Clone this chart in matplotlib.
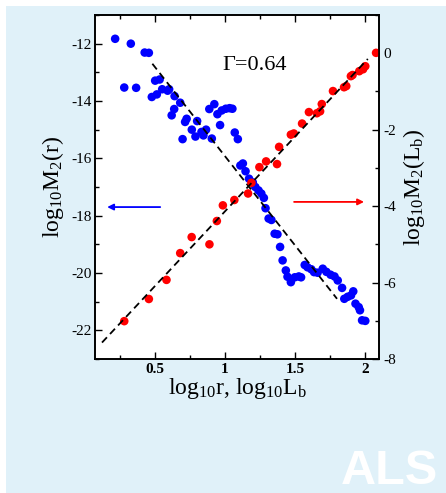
import matplotlib
matplotlib.use("Agg")
import matplotlib.pyplot as plt
from matplotlib.patches import Rectangle
from matplotlib.ticker import MultipleLocator, FixedLocator, FixedFormatter

plt.rcParams['font.family'] = ['Liberation Serif', 'DejaVu Serif']
plt.rcParams['mathtext.fontset'] = 'custom'
plt.rcParams['mathtext.rm'] = 'Liberation Serif'
plt.rcParams['mathtext.it'] = 'Liberation Serif:italic'
plt.rcParams['mathtext.bf'] = 'Liberation Serif:bold'
plt.rcParams['axes.unicode_minus'] = False

# ---- data (log10 r, log10 M2(r)) : blue, left axis
blue_x = [0.214, 0.326, 0.425, 0.455, 0.279, 0.364, 0.500, 0.532, 0.476, 0.512,
          0.550, 0.589, 0.600, 0.639, 0.679, 0.636, 0.618, 0.725, 0.714, 0.800,
          0.762, 0.696, 0.788, 0.831, 0.845, 0.864, 0.905, 0.887, 0.923, 0.945,
          0.976, 1.005, 1.032, 1.052, 0.964, 1.069, 1.091, 1.109, 1.127, 1.146,
          1.171, 1.198, 1.216, 1.239, 1.259, 1.277, 1.289, 1.311, 1.331, 1.354,
          1.374, 1.393, 1.411, 1.434, 1.446, 1.470, 1.498, 1.527, 1.543, 1.569,
          1.589, 1.616, 1.636, 1.661, 1.698, 1.724, 1.754, 1.782, 1.805, 1.836,
          1.852, 1.876, 1.900, 1.916, 1.932, 1.955, 1.964, 1.979, 2.002]
blue_y = [-11.83, -12.00, -12.31, -12.32, -13.53, -13.54, -13.29, -13.25, -13.86, -13.77,
          -13.59, -13.64, -13.59, -13.83, -14.06, -14.28, -14.50, -14.62, -14.73, -14.70,
          -15.00, -15.33, -15.24, -15.08, -15.20, -15.00, -15.31, -14.28, -14.11, -14.46,
          -14.33, -14.27, -14.25, -14.27, -14.84, -15.10, -15.33, -16.25, -16.18, -16.45,
          -16.71, -16.84, -17.00, -17.12, -17.23, -17.38, -17.74, -18.10, -18.15, -18.63,
          -18.65, -19.09, -19.56, -19.91, -20.13, -20.32, -20.15, -20.12, -20.15, -19.72,
          -19.80, -19.87, -19.97, -19.99, -19.85, -19.96, -20.06, -20.12, -20.26, -20.52,
          -20.90, -20.83, -20.78, -20.64, -21.07, -21.19, -21.30, -21.65, -21.67]

# ---- data (log10 Lb, log10 M2(Lb)) : red, right axis
red_x = [0.279, 0.455, 0.581, 0.679, 0.761, 0.888, 0.941, 0.984, 1.066, 1.164,
         1.188, 1.245, 1.293, 1.371, 1.386, 1.470, 1.491, 1.550, 1.599, 1.656,
         1.679, 1.691, 1.771, 1.850, 1.866, 1.899, 1.911, 1.959, 1.986, 2.002, 2.079]
red_y = [-7.01, -6.43, -5.93, -5.23, -4.81, -5.00, -4.39, -3.98, -3.84, -3.67,
         -3.39, -2.98, -2.83, -2.90, -2.45, -2.13, -2.10, -1.84, -1.54, -1.57,
         -1.52, -1.33, -0.99, -0.89, -0.86, -0.60, -0.57, -0.47, -0.42, -0.34, 0.01]

# fit lines
blue_fit_x = [0.48, 1.80]
blue_fit_y = [-12.70, -20.90]
red_fit_x = [0.12, 2.02]
red_fit_y = [-7.57, -0.15]

x_ticks = [0.5, 1.0, 1.5, 2.0]
x_ticklabels = ['0.5', '1', '1.5', '2']
left_ticks = [-22, -20, -18, -16, -14, -12]
right_ticks = [-8, -6, -4, -2, 0]

fig = plt.figure(figsize=(4.46, 4.93), dpi=100, facecolor='white')
fig.patches.append(Rectangle((6 / 446, 0), 1, (493 - 6) / 493, transform=fig.transFigure,
                             facecolor='#e0f1f9', edgecolor='none', zorder=-10))

ax = fig.add_axes([95 / 446, (493 - 359) / 493, (379 - 95) / 446, (359 - 15) / 493])
ax.set_facecolor('white')
ax2 = ax.twinx()

ax.scatter(blue_x, blue_y, s=38, color='#0000ff', edgecolors='none', zorder=2)
ax.plot(blue_fit_x, blue_fit_y, color='black', lw=1.3, dashes=(4, 2.5), zorder=3)
ax2.scatter(red_x, red_y, s=38, color='#ff0000', edgecolors='none', zorder=2)
ax2.plot(red_fit_x, red_fit_y, color='black', lw=1.3, dashes=(4, 2.5), zorder=3)

ax.set_xlim(0.07, 2.1)
ax.set_ylim(-23, -11)
ax2.set_ylim(-8, 1)

ax.xaxis.set_major_locator(FixedLocator(x_ticks))
ax.xaxis.set_major_formatter(FixedFormatter(x_ticklabels))
ax.xaxis.set_minor_locator(MultipleLocator(0.25))
ax.yaxis.set_major_locator(FixedLocator(left_ticks))
ax.yaxis.set_minor_locator(MultipleLocator(1))
ax2.yaxis.set_major_locator(FixedLocator(right_ticks))
ax2.yaxis.set_minor_locator(MultipleLocator(1))

for a in (ax, ax2):
    for s in a.spines.values():
        s.set_linewidth(1.2)
ax.tick_params(axis='both', which='both', direction='in', width=1.0)
ax.tick_params(which='major', length=5)
ax.tick_params(which='minor', length=3)
ax.tick_params(axis='x', which='both', top=True, bottom=True, pad=3, labelsize=11)
ax.tick_params(axis='y', which='both', left=True, right=False, pad=2, labelsize=11)
for lbl in ax.get_xticklabels():
    lbl.set_fontweight('bold')
ax2.tick_params(axis='y', which='both', direction='in', width=1.0, pad=3, labelsize=11)
ax2.tick_params(axis='y', which='major', length=5)
ax2.tick_params(axis='y', which='minor', length=3)

ax.set_xlabel(r'log$_{\rm 10}$r, log$_{\rm 10}$L$_{\rm b}$', fontsize=17, labelpad=0)
ax.set_ylabel(r'log$_{\rm 10}$M$_{\rm 2}$(r)', fontsize=17, labelpad=4)
ax2.set_ylabel(r'log$_{\rm 10}$M$_{\rm 2}$(L$_{\rm b}$)', fontsize=17, labelpad=4)

ax.text(0.447, 0.84, 'Γ=0.64', transform=ax.transAxes, fontsize=16,
        ha='left', va='baseline')

ax.annotate('', xy=(0.157, -17.70), xytext=(0.536, -17.70),
            arrowprops=dict(arrowstyle='-|>', color='#0000ff', lw=1.3,
                            mutation_scale=9, shrinkA=0, shrinkB=0), zorder=4)
ax2.annotate('', xy=(1.993, -3.89), xytext=(1.493, -3.89),
             arrowprops=dict(arrowstyle='-|>', color='#ff0000', lw=1.3,
                             mutation_scale=9, shrinkA=0, shrinkB=0), zorder=4)

fig.text(389 / 446, (493 - 484) / 493, 'ALS', color='white', fontsize=35,
         fontweight='bold', family='Liberation Sans', ha='center', va='baseline')

fig.savefig('out.png', dpi=100, facecolor=fig.get_facecolor())
